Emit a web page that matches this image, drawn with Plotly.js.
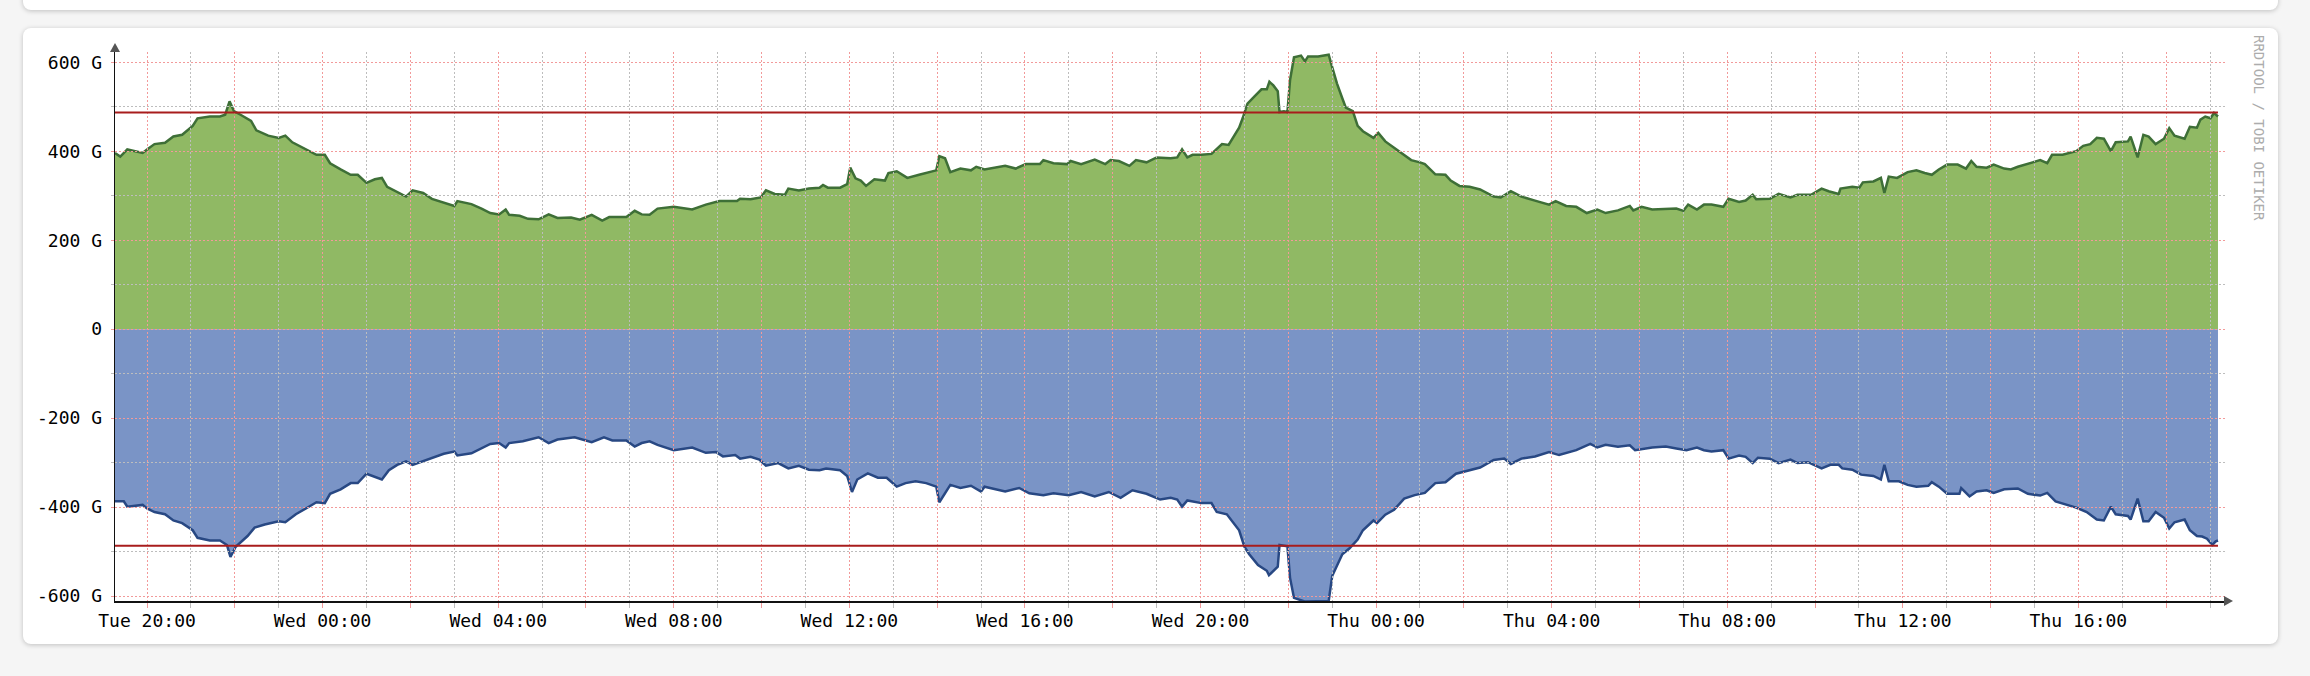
<!DOCTYPE html>
<html>
<head>
<meta charset="utf-8">
<script src="https://cdn.plot.ly/plotly-3.0.1.min.js"></script>
<style>
  html, body { margin: 0; padding: 0; background: #f5f5f5; width: 2310px; height: 676px; overflow: hidden; }
  .card { position: absolute; background: #ffffff; border-radius: 8px; box-shadow: 0 1px 5px rgba(0,0,0,0.22); }
  #topcard { left: 23px; top: -20px; width: 2255px; height: 30px; }
  #maincard { left: 23px; top: 28px; width: 2255px; height: 616px; }
  #chart { position: absolute; left: 0; top: 0; width: 2310px; height: 676px; z-index: 2; }
</style>
</head>
<body>
<div class="card" id="topcard"></div>
<div class="card" id="maincard"></div>
<div id="chart"></div>
<script>
// Hours relative to Tue 20:00, and traffic values (G)
const inHours = [-0.73,-0.61,-0.45,-0.30,-0.10,0,0.17,0.41,0.60,0.80,1.04,1.15,1.43,1.66,1.78,1.88,1.98,2.13,2.37,2.49,2.76,3.00,3.15,3.31,3.55,3.86,4.05,4.17,4.41,4.64,4.80,5.00,5.19,5.35,5.47,5.66,5.90,6.05,6.29,6.49,6.76,7.00,7.07,7.39,7.62,7.82,8.02,8.17,8.25,8.49,8.68,8.92,9.15,9.35,9.66,9.86,10.13,10.37,10.53,10.92,11.11,11.27,11.45,
  11.63,12.00,12.26,12.42,12.73,13.04,13.44,13.51,13.75,13.98,14.10,14.30,14.53,14.61,14.85,15.08,15.32,15.40,15.51,15.79,15.95,16.02,16.14,16.26,16.38,16.57,16.81,16.89,17.08,17.32,17.59,17.75,17.98,18.05,18.18,18.30,18.53,18.77,18.89,19.08,19.32,19.55,19.79,20.02,20.34,20.42,20.65,20.96,21.04,21.28,21.59,21.83,21.95,22.14,22.38,22.53,22.77,23.00,23.32,
  23.47,23.58,23.70,23.82,24.02,24.25,24.37,24.49,24.64,24.76,24.88,24.96,25.07,25.23,25.39,25.51,25.57,25.66,25.76,25.80,25.90,25.98,26.04,26.13,26.29,26.38,26.45,26.68,26.92,27.00,27.11,27.23,27.31,27.47,27.58,27.70,27.94,28.05,28.21,28.41,28.64,28.80,29.00,29.11,29.35,29.58,29.70,29.90,30.13,30.37,30.68,30.84,31.07,31.31,31.62,31.94,32.09,32.33,32.56,32.80,33.04,33.23,33.51,33.78,33.86,34.05,34.29,34.60,34.84,35.00,35.11,35.31,35.47,
  35.64,35.91,36.03,36.27,36.42,36.58,36.66,36.97,37.17,37.44,37.60,37.91,38.15,38.31,38.54,38.58,38.85,39.01,39.09,39.33,39.50,39.58,39.68,39.87,40.11,40.31,40.50,40.66,40.82,41.01,41.25,41.44,41.56,41.68,41.91,42.07,42.31,42.46,42.62,42.85,43.13,43.29,43.40,43.64,43.95,44.11,44.27,44.42,44.58,44.74,44.85,45.13,45.19,45.35,45.48,45.60,45.76,45.95,46.07,46.19,46.42,46.54,46.70,46.78,46.89,47.01,47.09,47.18];
const inValues = [396,388,404,400,396,404,416,419,433,437,457,474,478,478,482,512,490,482,468,447,435,430,435,420,408,392,392,373,359,347,347,329,337,340,320,310,298,312,306,293,285,277,288,281,271,261,258,269,257,255,248,247,258,250,251,246,257,244,252,252,266,258,257,
  271,275,271,269,280,288,288,293,292,296,312,304,302,316,312,316,318,324,318,318,326,363,339,334,322,337,334,351,355,340,347,351,357,389,384,353,361,357,365,359,363,367,361,371,371,380,373,371,378,371,381,371,380,378,367,380,375,386,384,
  386,404,386,392,392,394,406,416,414,435,453,474,507,523,539,539,556,548,535,488,490,488,560,611,615,602,613,613,617,589,552,519,498,490,457,445,430,441,422,408,392,380,375,371,348,347,334,322,320,314,298,296,310,298,289,280,288,277,275,261,269,261,267,277,267,275,269,271,271,266,280,269,280,
  280,275,293,286,289,302,292,293,304,296,302,302,316,310,304,316,320,318,330,332,340,306,343,340,353,357,351,347,359,370,370,361,378,365,363,370,361,359,365,371,380,373,392,392,400,412,416,430,428,400,420,422,433,386,437,433,416,428,452,435,428,455,453,471,478,474,486,478];

const outHours = [-0.73,-0.53,-0.45,-0.10,0,0.17,0.41,0.60,0.80,1.04,1.15,1.43,1.66,1.82,1.90,2.02,2.29,2.45,2.68,3.00,3.15,3.39,3.62,3.86,4.05,4.17,4.41,4.64,4.80,5.00,5.35,5.51,5.70,5.90,6.05,6.29,6.49,6.76,7.00,7.07,7.39,7.62,7.82,8.02,8.17,8.25,8.56,8.92,9.15,9.35,9.74,10.13,10.41,10.60,10.92,11.11,11.27,11.45,
  11.63,12.00,12.42,12.73,12.96,13.12,13.40,13.51,13.75,13.95,14.10,14.38,14.61,14.85,15.08,15.32,15.47,15.79,15.95,16.06,16.18,16.42,16.65,16.85,17.08,17.28,17.51,17.75,17.98,18.05,18.30,18.53,18.77,19.00,19.08,19.55,19.87,20.10,20.42,20.65,21.00,21.28,21.59,21.91,22.18,22.45,22.77,23.08,23.32,
  23.47,23.58,23.70,24.02,24.25,24.37,24.60,24.72,24.88,25.00,25.11,25.31,25.51,25.56,25.66,25.76,25.80,25.98,26.04,26.13,26.37,26.68,26.92,27.00,27.11,27.23,27.39,27.58,27.70,27.94,28.02,28.21,28.41,28.64,28.88,29.11,29.35,29.58,29.82,30.05,30.37,30.68,30.92,31.07,31.31,31.62,31.94,32.17,32.56,32.88,33.04,33.23,33.51,33.78,33.90,34.29,34.60,34.84,35.07,35.31,35.47,
  35.64,35.91,36.03,36.27,36.42,36.58,36.70,36.97,37.17,37.44,37.60,37.84,38.15,38.35,38.54,38.62,38.85,39.05,39.33,39.50,39.58,39.68,39.91,40.11,40.31,40.58,40.66,40.82,41.01,41.29,41.33,41.52,41.68,41.91,42.07,42.31,42.62,42.85,43.13,43.29,43.48,43.72,43.95,44.19,44.42,44.58,44.74,44.85,45.13,45.19,45.35,45.48,45.60,45.76,45.95,46.07,46.19,46.42,46.54,46.70,46.82,46.93,47.05,47.13,47.18];
const outValues = [-387,-387,-399,-395,-403,-411,-416,-430,-436,-452,-469,-475,-475,-485,-512,-489,-465,-446,-439,-432,-434,-416,-403,-389,-391,-370,-360,-346,-346,-325,-338,-317,-305,-297,-305,-297,-289,-280,-275,-284,-279,-268,-258,-256,-266,-256,-252,-243,-256,-248,-243,-254,-243,-250,-250,-264,-256,-252,
  -260,-272,-266,-278,-276,-286,-283,-291,-287,-293,-307,-301,-313,-307,-316,-317,-313,-317,-330,-366,-338,-324,-334,-334,-354,-346,-342,-346,-354,-389,-350,-357,-352,-365,-354,-365,-357,-369,-373,-369,-373,-366,-376,-366,-379,-362,-370,-383,-379,
  -383,-399,-385,-391,-391,-411,-416,-432,-452,-489,-506,-530,-543,-553,-543,-534,-485,-488,-559,-604,-612,-612,-611,-555,-530,-506,-493,-473,-452,-430,-436,-417,-406,-381,-373,-368,-346,-344,-325,-319,-311,-294,-291,-303,-291,-286,-276,-283,-272,-258,-266,-260,-264,-261,-272,-266,-264,-268,-272,-266,-272,
  -275,-272,-291,-284,-287,-301,-289,-291,-301,-293,-301,-299,-313,-305,-305,-313,-316,-327,-330,-338,-305,-342,-342,-350,-354,-352,-344,-354,-370,-370,-357,-376,-365,-362,-368,-360,-358,-370,-374,-368,-387,-395,-401,-411,-428,-430,-399,-416,-420,-428,-381,-432,-432,-411,-424,-448,-434,-428,-452,-465,-466,-471,-485,-477,-475];

const thresholdValues = [487, -487];
const yTickVals = [-600, -400, -200, 0, 200, 400, 600];
const yTickText = ['-600 G', '-400 G', '-200 G', '0', '200 G', '400 G', '600 G'];

const BASE = Date.UTC(2024, 0, 2, 20, 0, 0); // Tue 20:00
function hToDate(h) {
  return new Date(BASE + h * 3600000).toISOString().slice(0, 19).replace('T', ' ');
}
const inX = inHours.map(hToDate);
const outX = outHours.map(hToDate);
const firstH = Math.min(inHours[0], outHours[0]);
const lastH = Math.max(inHours[inHours.length - 1], outHours[outHours.length - 1]);

const xRange = [hToDate(-0.73), hToDate(47.34)];
const yRange = [-611, 623];

const MONO = 'DejaVu Sans Mono, monospace';
const RED_GRID = '#f29a9a';
const GRAY_GRID = '#bdbdbd';

const traces = [
  { x: inX, y: inValues, type: 'scatter', mode: 'lines', fill: 'tozeroy',
    fillcolor: '#90b964', line: { color: '#3e6f37', width: 2.5 }, hoverinfo: 'skip', xaxis: 'x', yaxis: 'y' },
  { x: outX, y: outValues, type: 'scatter', mode: 'lines', fill: 'tozeroy',
    fillcolor: '#7a94c6', line: { color: '#284883', width: 2.5 }, hoverinfo: 'skip', xaxis: 'x', yaxis: 'y' }
];
thresholdValues.forEach(v => {
  traces.push({ x: [hToDate(firstH), hToDate(lastH)], y: [v, v], type: 'scatter', mode: 'lines',
    line: { color: '#a81c1c', width: 2 }, hoverinfo: 'skip', xaxis: 'x2', yaxis: 'y2' });
});

const layout = {
  width: 2310, height: 676,
  margin: { l: 115, r: 85, t: 52, b: 75, pad: 0 },
  paper_bgcolor: 'rgba(0,0,0,0)', plot_bgcolor: 'rgba(0,0,0,0)',
  showlegend: false,
  font: { family: MONO, size: 18, color: '#000' },
  xaxis: { type: 'date', range: xRange, dtick: 4 * 3600000, tickformat: '%a %H:%M',
    showgrid: false, zeroline: false, showline: false, ticks: '', ticklabelstandoff: 7,
    tickfont: { family: MONO, size: 18, color: '#000' }, fixedrange: true },
  yaxis: { range: yRange, tickmode: 'array', tickvals: yTickVals, ticktext: yTickText,
    showgrid: false, zeroline: false, showline: false, ticks: '', ticklabelstandoff: 12,
    tickfont: { family: MONO, size: 18, color: '#000' }, fixedrange: true },
  xaxis2: { type: 'date', range: xRange, anchor: 'y2', dtick: 2 * 3600000, showticklabels: false,
    showgrid: true, gridcolor: RED_GRID, griddash: '2px,2px', gridwidth: 1,
    ticks: 'outside', ticklen: 5, tickcolor: RED_GRID, tickwidth: 1,
    minor: { dtick: 3600000, showgrid: true, gridcolor: GRAY_GRID, griddash: '2px,2px', gridwidth: 1,
      ticks: 'outside', ticklen: 5, tickcolor: GRAY_GRID, tickwidth: 1 },
    zeroline: false, showline: true, linecolor: '#111', linewidth: 1.5, fixedrange: true },
  yaxis2: { range: yRange, anchor: 'x2', tickmode: 'linear', tick0: 0, dtick: 200, showticklabels: false,
    showgrid: true, gridcolor: RED_GRID, griddash: '2px,2px', gridwidth: 1,
    ticks: 'outside', ticklen: 3, tickcolor: RED_GRID, tickwidth: 1,
    minor: { tick0: 0, dtick: 100, showgrid: true, gridcolor: GRAY_GRID, griddash: '2px,2px', gridwidth: 1,
      ticks: 'outside', ticklen: 3, tickcolor: GRAY_GRID, tickwidth: 1 },
    zeroline: false, showline: true, linecolor: '#111', linewidth: 1.5, fixedrange: true },
  shapes: [
    { type: 'path', xref: 'paper', yref: 'paper', xsizemode: 'pixel', ysizemode: 'pixel',
      xanchor: 0, yanchor: 1, path: 'M -5 0 L 5 0 L 0 9 Z', fillcolor: '#555', line: { width: 0 } },
    { type: 'path', xref: 'paper', yref: 'paper', xsizemode: 'pixel', ysizemode: 'pixel',
      xanchor: 1, yanchor: 0, path: 'M -1 5 L -1 -5 L 8 0 Z', fillcolor: '#555', line: { width: 0 } }
  ],
  annotations: [
    { text: 'RRDTOOL / TOBI OETIKER', xref: 'paper', yref: 'paper', x: 1.016, y: 0.862,
      xanchor: 'center', yanchor: 'middle', showarrow: false, textangle: 90,
      font: { family: MONO, size: 14, color: '#acacac' } }
  ]
};

Plotly.newPlot('chart', traces, layout, { displayModeBar: false, staticPlot: true });
</script>
</body>
</html>
